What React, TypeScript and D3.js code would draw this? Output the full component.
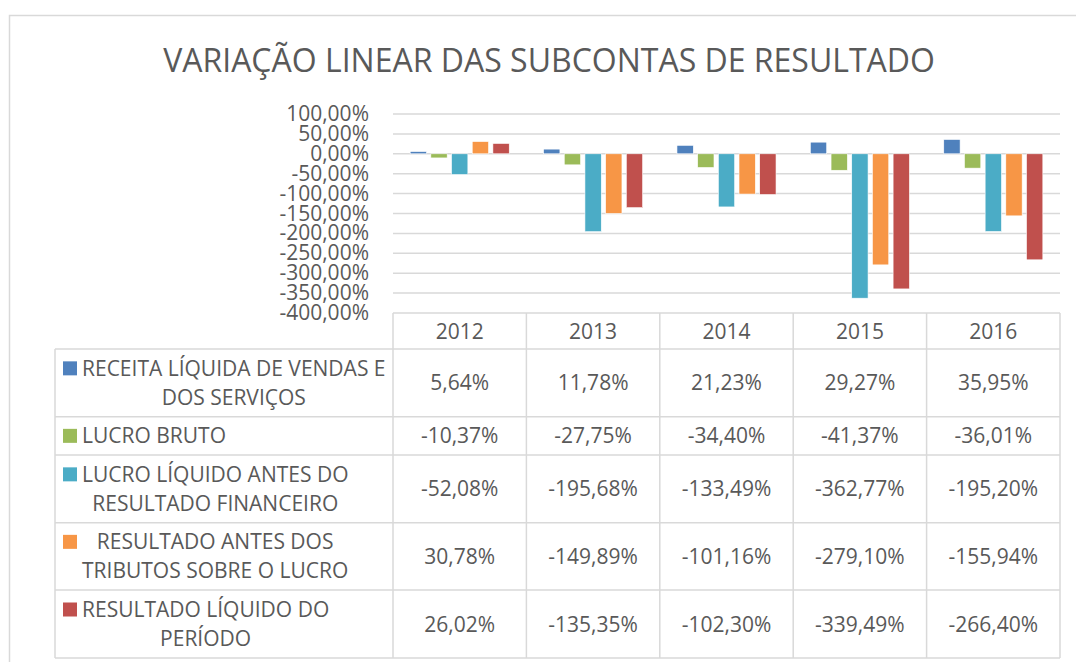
import React, { useEffect, useRef } from 'react';
import * as d3 from 'd3';

const years = ['2012', '2013', '2014', '2015', '2016'];

const seriesNames = [
  ['RECEITA LÍQUIDA DE VENDAS E', 'DOS SERVIÇOS'],
  ['LUCRO BRUTO'],
  ['LUCRO LÍQUIDO ANTES DO', 'RESULTADO FINANCEIRO'],
  ['RESULTADO ANTES DOS', 'TRIBUTOS SOBRE O LUCRO'],
  ['RESULTADO LÍQUIDO DO', 'PERÍODO'],
];

const receita = [5.64, 11.78, 21.23, 29.27, 35.95];
const lucroBruto = [-10.37, -27.75, -34.4, -41.37, -36.01];
const lucroAntesFin = [-52.08, -195.68, -133.49, -362.77, -195.2];
const antesTributos = [30.78, -149.89, -101.16, -279.1, -155.94];
const liquidoPeriodo = [26.02, -135.35, -102.3, -339.49, -266.4];

const yTicks = [100, 50, 0, -50, -100, -150, -200, -250, -300, -350, -400];

const colors = ['#4F81BD', '#9BBB59', '#4BACC6', '#F79646', '#C0504D'];

const fmt = (v: number) => v.toFixed(2).replace('.', ',') + '%';

const FONT = '"Open Sans", sans-serif';
const TEXT = '#595959';
const GRID = '#D9D9D9';

const App = () => {
  const svgRef = useRef<SVGSVGElement>(null);

  useEffect(() => {
    const svg = d3.select(svgRef.current);
    svg.selectAll('*').remove();

    const values = [receita, lucroBruto, lucroAntesFin, antesTributos, liquidoPeriodo];
    const plotLeft = 393;
    const plotRight = 1060;
    const tableLeft = 55;
    const rowLines = [349, 416.7, 455, 522.7, 590, 658];

    // chart frame
    svg.append('rect')
      .attr('x', 9.5).attr('y', 15.5)
      .attr('width', 1100).attr('height', 700)
      .attr('fill', 'white').attr('stroke', GRID).attr('stroke-width', 1.5);

    svg.append('text')
      .attr('x', 549).attr('y', 72)
      .attr('text-anchor', 'middle')
      .attr('font-family', FONT).attr('font-size', 32)
      .attr('fill', TEXT)
      .text('VARIAÇÃO LINEAR DAS SUBCONTAS DE RESULTADO');

    const x0 = d3.scaleBand().domain(years).range([plotLeft, plotRight]);
    const x1 = d3.scaleBand<number>()
      .domain(d3.range(values.length))
      .range([0, x0.bandwidth()])
      .paddingInner(0.21)
      .paddingOuter(0.83);
    const y = d3.scaleLinear().domain([-400, 100]).range([313, 114]);

    // gridlines
    svg.append('g')
      .selectAll('line')
      .data(yTicks.filter(t => t > -400))
      .enter().append('line')
      .attr('x1', plotLeft).attr('x2', plotRight)
      .attr('y1', d => y(d)).attr('y2', d => y(d))
      .attr('stroke', GRID).attr('stroke-width', 1.5);

    // y labels
    svg.append('g')
      .selectAll('text')
      .data(yTicks)
      .enter().append('text')
      .attr('x', 369).attr('y', d => y(d) + 7)
      .attr('text-anchor', 'end')
      .attr('font-family', FONT).attr('font-size', 21)
      .attr('fill', TEXT)
      .text(d => fmt(d));

    // bars
    values.forEach((vals, si) => {
      svg.append('g')
        .selectAll('rect')
        .data(vals)
        .enter().append('rect')
        .attr('x', (d, i) => (x0(years[i]) as number) + (x1(si) as number))
        .attr('y', d => y(Math.max(0, d)))
        .attr('width', x1.bandwidth())
        .attr('height', d => Math.abs(y(d) - y(0)))
        .attr('fill', colors[si])
        .attr('stroke', 'white').attr('stroke-width', 0.6);
    });

    // table
    const tbl = svg.append('g');
    const hline = (x1p: number, x2p: number, yp: number) =>
      tbl.append('line').attr('x1', x1p).attr('x2', x2p).attr('y1', yp).attr('y2', yp)
        .attr('stroke', GRID).attr('stroke-width', 1.5);
    const vline = (xp: number, y1p: number, y2p: number) =>
      tbl.append('line').attr('x1', xp).attr('x2', xp).attr('y1', y1p).attr('y2', y2p)
        .attr('stroke', GRID).attr('stroke-width', 1.5);

    hline(plotLeft, plotRight, 313);
    rowLines.forEach(r => hline(tableLeft, plotRight, r));
    vline(tableLeft, rowLines[0], rowLines[rowLines.length - 1]);
    years.forEach(yr => vline(x0(yr) as number, 313, rowLines[rowLines.length - 1]));
    vline(plotRight, 313, rowLines[rowLines.length - 1]);

    years.forEach(yr => {
      tbl.append('text')
        .attr('x', (x0(yr) as number) + x0.bandwidth() / 2)
        .attr('y', 338.5)
        .attr('text-anchor', 'middle')
        .attr('font-family', FONT).attr('font-size', 21)
        .attr('fill', TEXT)
        .text(yr);
    });

    const lh = 29;
    seriesNames.forEach((lines, si) => {
      const top = rowLines[si];
      const bot = rowLines[si + 1];
      const cy = (top + bot) / 2;
      const firstBase = cy - ((lines.length - 1) * lh) / 2 + 7.5;

      tbl.append('rect')
        .attr('x', 63).attr('y', firstBase - 14.5)
        .attr('width', 14).attr('height', 14)
        .attr('fill', colors[si]);

      const texts = lines.map((ln, li) =>
        tbl.append('text')
          .attr('y', firstBase + li * lh)
          .attr('text-anchor', 'middle')
          .attr('font-family', FONT).attr('font-size', 21)
          .attr('fill', TEXT)
          .text(ln)
      );
      const widths = texts.map(t => (t.node() as SVGTextElement).getComputedTextLength());
      const cx = 82 + (d3.max(widths) as number) / 2;
      texts.forEach(t => t.attr('x', cx));

      values[si].forEach((v, i) => {
        tbl.append('text')
          .attr('x', (x0(years[i]) as number) + x0.bandwidth() / 2)
          .attr('y', cy + 7.5)
          .attr('text-anchor', 'middle')
          .attr('font-family', FONT).attr('font-size', 21)
          .attr('fill', TEXT)
          .text(fmt(v));
      });
    });
  }, []);

  return (
    <svg
      ref={svgRef}
      width={1076}
      height={662}
      style={{ position: 'absolute', left: 0, top: 0, background: 'white' }}
    ></svg>
  );
};

export default App;
